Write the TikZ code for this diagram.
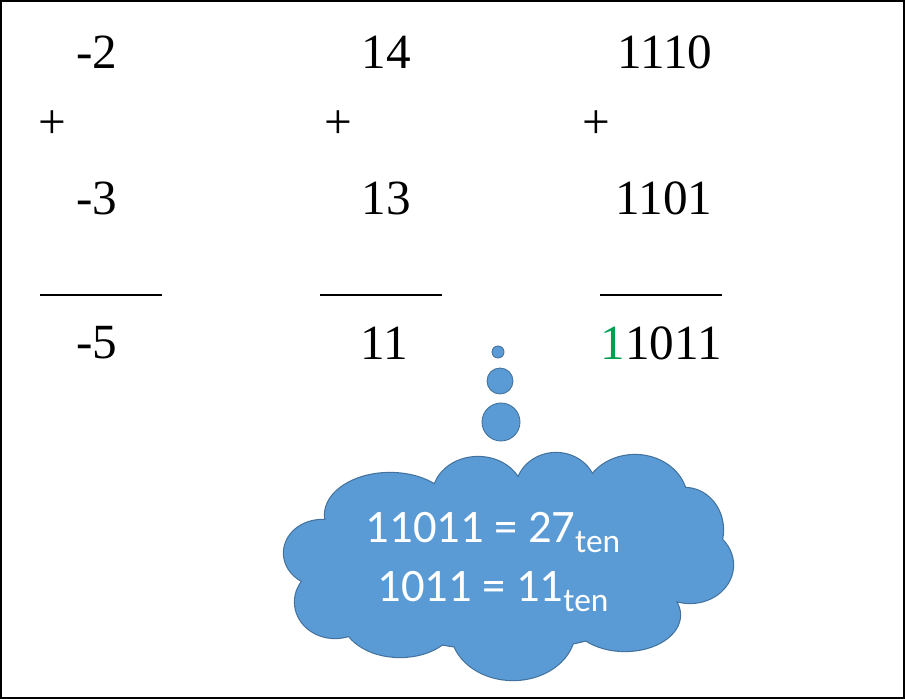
\documentclass[tikz,border=0pt]{standalone}
\usepackage{fontspec}
\setmainfont{Liberation Serif}
\newfontfamily\cloudfont{Carlito}
\usetikzlibrary{positioning}
\definecolor{cloudblue}{RGB}{91,155,213}
\definecolor{cloudedge}{RGB}{65,113,156}
\definecolor{carrygreen}{RGB}{0,160,80}
\newcommand{\tensub}{\raisebox{-5.5pt}{\fontsize{19}{19}\selectfont ten}}
\newcommand{\puffs}{505/565/175/85, 390/515/65/42, 478/495/45/38, 556/490/40/37,
  635/500/52/45, 685/530/38/42, 690/565/43/38, 625/615/55/36, 513/630/62/50,
  400/617/58/40, 335/602/40/36, 322/553/38/33}

\begin{document}
\begin{tikzpicture}[x=0.02cm,y=-0.02cm,
    num/.style={font=\fontsize{28}{30}\selectfont, inner sep=0pt},
    sumline/.style={line width=0.8pt},
    bubble/.style={circle, fill=cloudblue, draw=cloudedge, line width=0.5pt, inner sep=0pt}]
  \useasboundingbox (0,0) rectangle (905,699);
  \draw[line width=1.2pt] (1,1) rectangle (904,698);

  \node[num] (a1) at (97,52) {-2};
  \node[num] (p1) at (52,125) {+};
  \node[num] (b1) at (97,198) {-3};
  \node[num] (s1) at (97,343) {-5};
  \draw[sumline] (40,295) -- (162,295);

  \node[num] (a2) at (386,52) {14};
  \node[num] (p2) at (338,125) {+};
  \node[num] (b2) at (386,198) {13};
  \node[num] (s2) at (384,343) {11};
  \draw[sumline] (320,295) -- (442,295);

  \node[num] (a3) at (665,52) {1110};
  \node[num] (p3) at (596,125) {+};
  \node[num] (b3) at (664,198) {1101};
  \node[num] (s3) at (661,343) {\textcolor{carrygreen}{1}1011};
  \draw[sumline] (600,295) -- (722,295);

  \node[bubble, minimum size=0.24cm] (d1) at (498,352) {};
  \node[bubble, minimum size=0.52cm] (d2) at (500,381) {};
  \node[bubble, minimum size=0.76cm] (d3) at (501,422) {};

  \foreach \cx/\cy/\rx/\ry in \puffs
    \draw[cloudedge, line width=1.3pt] (\cx,\cy) ellipse [x radius={\rx*0.02cm}, y radius={\ry*0.02cm}];
  \foreach \cx/\cy/\rx/\ry in \puffs
    \fill[cloudblue] (\cx,\cy) ellipse [x radius={\rx*0.02cm}, y radius={\ry*0.02cm}];

  \node[text=white, align=center,
        font=\cloudfont\fontsize{26.5}{33.5}\selectfont] (sums) at (493,562)
    {11011 = 27\tensub\\ 1011 = 11\tensub};
\end{tikzpicture}
\end{document}
